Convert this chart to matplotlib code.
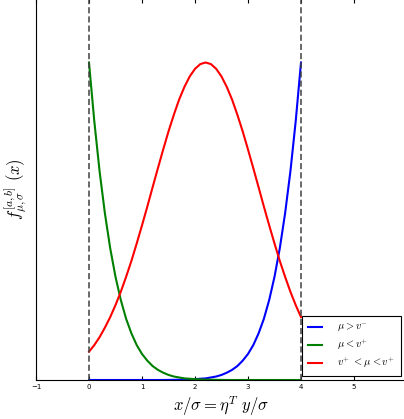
import numpy as np
import matplotlib
matplotlib.use('Agg')
import matplotlib.pyplot as plt

plt.rcParams['mathtext.fontset'] = 'cm'

#values (relative height, peak = 1)
x = np.round(np.arange(0, 4.01, 0.1), 1)
green = [1.000, 0.815, 0.657, 0.525, 0.415, 0.325, 0.252, 0.193, 0.147, 0.110,
         0.082, 0.061, 0.044, 0.032, 0.023, 0.016, 0.011, 0.008, 0.005, 0.004,
         0.0025, 0.002, 0.001, 0.001, 0.0005, 0.0003, 0.0, 0.0, 0.0, 0.0,
         0.0, 0.0, 0.0, 0.0, 0.0, 0.0, 0.0, 0.0, 0.0, 0.0, 0.0]
blue = green[::-1]
red = [0.089, 0.110, 0.135, 0.165, 0.198, 0.236, 0.278, 0.325, 0.375, 0.430,
       0.487, 0.546, 0.607, 0.667, 0.726, 0.783, 0.835, 0.883, 0.923, 0.956,
       0.980, 0.995, 1.000, 0.995, 0.980, 0.956, 0.923, 0.883, 0.835, 0.783,
       0.726, 0.667, 0.607, 0.546, 0.487, 0.430, 0.375, 0.325, 0.278, 0.236,
       0.198]
labels = [r'$\mu > v^{-}$', r'$\mu < v^{+}$', r'$v^{+}\ < \mu < v^{+}$']
a, b = 0, 4
xticks = [-1, 0, 1, 2, 3, 4, 5]

fig = plt.figure(figsize=(4.04, 4.19), dpi=100)
ax = fig.add_axes([36/404, 39/419, 371/404, 381/419])

ax.plot(x, blue, color='b', lw=1.5, label=labels[0])
ax.plot(x, green, color='g', lw=1.5, label=labels[1])
ax.plot(x, red, color='r', lw=1.5, label=labels[2])
ax.axvline(a, color='0.25', ls=(0, (4, 2)), lw=1.1)
ax.axvline(b, color='0.25', ls=(0, (4, 2)), lw=1.1)

ax.set_xlim(-1, 6)
ax.set_ylim(0, 1.2)
ax.set_xticks(xticks)
ax.set_yticks([])
ax.tick_params(axis='x', direction='in', top=True, labelsize=5, length=3, pad=3)
ax.set_xlabel(r'$x/\sigma = \eta^T\ y/\sigma$', fontsize=12, labelpad=3)
ax.set_ylabel(r'$f^{[a,b]}_{\mu,\sigma}\ (x)$', fontsize=12, labelpad=6)

leg = fig.legend(loc='lower right', bbox_to_anchor=(401/404, 43/419),
                 fontsize=7.5, fancybox=False, edgecolor='k', framealpha=1,
                 handlelength=1.3, handletextpad=1.5, borderpad=0.55,
                 borderaxespad=0, labelspacing=0.3)
leg.get_frame().set_linewidth(0.8)

fig.savefig('out.png', dpi=100)
